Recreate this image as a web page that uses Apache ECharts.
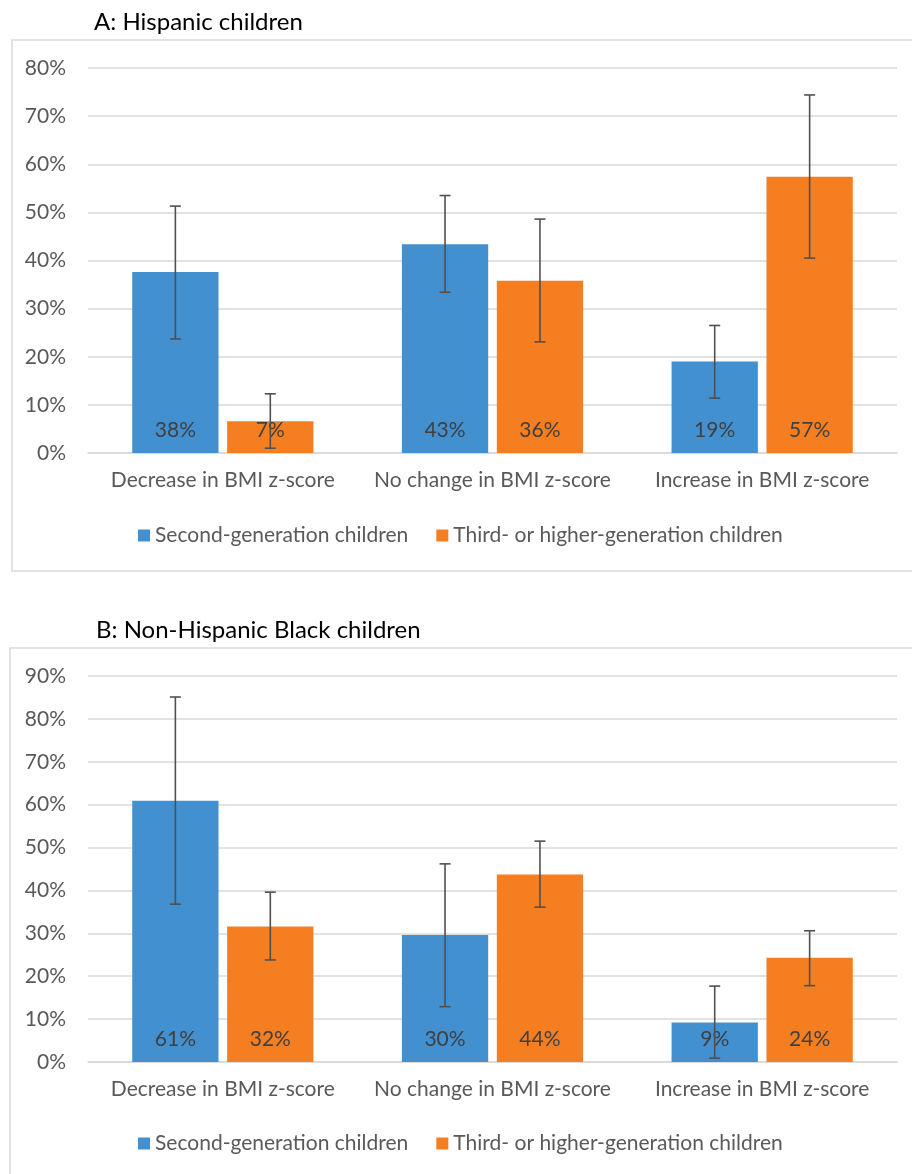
<!DOCTYPE html>
<html>
<head>
<meta charset="utf-8">
<script src="https://cdn.jsdelivr.net/npm/echarts@6/dist/echarts.min.js"></script>
<style>
html,body{margin:0;padding:0;background:#fff;}
#chart{width:912px;height:1174px;}
</style>
</head>
<body>
<div id="chart"></div>
<script>
// ---- data ----
const categories = ['Decrease in BMI z-score', 'No change in BMI z-score', 'Increase in BMI z-score'];
const seriesNames = ['Second-generation children', 'Third- or higher-generation children'];
const titleA = 'A: Hispanic children';
const titleB = 'B: Non-Hispanic Black children';

// Panel A (Hispanic), percent
const secondA = [37.6, 43.4, 19.0];
const thirdA = [6.6, 35.8, 57.4];
const secondALow = [23.7, 33.4, 11.4];
const secondAHigh = [51.3, 53.5, 26.5];
const thirdALow = [1.0, 23.1, 40.5];
const thirdAHigh = [12.3, 48.6, 74.4];

// Panel B (Non-Hispanic Black), percent
const secondB = [60.9, 29.6, 9.2];
const thirdB = [31.6, 43.7, 24.3];
const secondBLow = [36.8, 12.9, 0.9];
const secondBHigh = [85.1, 46.2, 17.7];
const thirdBLow = [23.8, 36.1, 17.8];
const thirdBHigh = [39.6, 51.5, 30.6];

const yMaxA = 80, yMaxB = 90, yStep = 10;

// ---- styles ----
const FONT = 'Lato';
const FS = 21;
const BLUE = '#4290CF';
const ORANGE = '#F47E20';
const GRID = '#D9D9D9';
const TXT = '#595959';
const BAR_W = 0.32, BAR_GAP = 0.10;

function errSeries(lows, highs, which, axisIdx) {
  return {
    type: 'custom',
    name: 'err' + axisIdx + which,
    xAxisIndex: axisIdx, yAxisIndex: axisIdx,
    z: 10,
    silent: true,
    data: lows.map((l, i) => [i, l, highs[i]]),
    renderItem: function (params, api) {
      const band = api.size([1, 0])[0];
      const bw = band * BAR_W;
      const off = (bw + bw * BAR_GAP) / 2 * (which === 0 ? -1 : 1);
      const p1 = api.coord([api.value(0), api.value(1)]);
      const p2 = api.coord([api.value(0), api.value(2)]);
      const x = p1[0] + off;
      const cap = 5.5;
      const st = { stroke: '#505050', lineWidth: 1.6 };
      return {
        type: 'group',
        children: [
          { type: 'line', shape: { x1: x, y1: p1[1], x2: x, y2: p2[1] }, style: st },
          { type: 'line', shape: { x1: x - cap, y1: p1[1], x2: x + cap, y2: p1[1] }, style: st },
          { type: 'line', shape: { x1: x - cap, y1: p2[1], x2: x + cap, y2: p2[1] }, style: st }
        ]
      };
    }
  };
}

function barSeries(name, data, color, axisIdx) {
  return {
    type: 'bar',
    name: name,
    xAxisIndex: axisIdx, yAxisIndex: axisIdx,
    data: data,
    barWidth: (BAR_W * 100) + '%',
    barGap: (BAR_GAP * 100) + '%',
    itemStyle: { color: color },
    label: {
      show: true,
      position: 'insideBottom',
      distance: 12,
      formatter: p => Math.round(p.value) + '%',
      color: '#404040',
      fontFamily: FONT,
      fontSize: FS
    }
  };
}

function xAxis(idx) {
  return {
    type: 'category', gridIndex: idx, data: categories,
    axisLine: { lineStyle: { color: GRID, width: 1.5 } },
    axisTick: { show: false },
    axisLabel: { color: TXT, fontFamily: FONT, fontSize: FS, margin: 17, interval: 0 }
  };
}
function yAxis(idx, max) {
  return {
    type: 'value', gridIndex: idx, min: 0, max: max, interval: yStep,
    axisLine: { show: false }, axisTick: { show: false },
    splitLine: { lineStyle: { color: GRID, width: 1.5 } },
    axisLabel: { color: TXT, fontFamily: FONT, fontSize: FS, margin: 22, formatter: v => v + '%' }
  };
}
function legend(top) {
  return {
    data: seriesNames, left: 133, top: top, itemWidth: 12, itemHeight: 12,
    itemGap: 28, icon: 'rect',
    textStyle: { color: TXT, fontFamily: FONT, fontSize: FS }
  };
}

const chart = echarts.init(document.getElementById('chart'));
chart.setOption({
  animation: false,
  backgroundColor: '#fff',
  title: [
    { text: titleA, left: 89, top: 5, textStyle: { fontFamily: FONT, fontSize: 24, fontWeight: 'normal', color: '#000' } },
    { text: titleB, left: 91, top: 613, textStyle: { fontFamily: FONT, fontSize: 24, fontWeight: 'normal', color: '#000' } }
  ],
  graphic: [
    { type: 'rect', shape: { x: 12, y: 40, width: 910, height: 531 }, style: { fill: 'none', stroke: GRID, lineWidth: 1.5 }, z: -1 },
    { type: 'rect', shape: { x: 10, y: 648, width: 912, height: 540 }, style: { fill: 'none', stroke: GRID, lineWidth: 1.5 }, z: -1 }
  ],
  legend: [legend(520), legend(1128)],
  grid: [
    { left: 88, right: 15, top: 68, bottom: 1174 - 453 },
    { left: 88, right: 15, top: 676, bottom: 1174 - 1062 }
  ],
  xAxis: [xAxis(0), xAxis(1)],
  yAxis: [yAxis(0, yMaxA), yAxis(1, yMaxB)],
  series: [
    barSeries(seriesNames[0], secondA, BLUE, 0),
    barSeries(seriesNames[1], thirdA, ORANGE, 0),
    barSeries(seriesNames[0], secondB, BLUE, 1),
    barSeries(seriesNames[1], thirdB, ORANGE, 1),
    errSeries(secondALow, secondAHigh, 0, 0),
    errSeries(thirdALow, thirdAHigh, 1, 0),
    errSeries(secondBLow, secondBHigh, 0, 1),
    errSeries(thirdBLow, thirdBHigh, 1, 1)
  ]
});
</script>
</body>
</html>
